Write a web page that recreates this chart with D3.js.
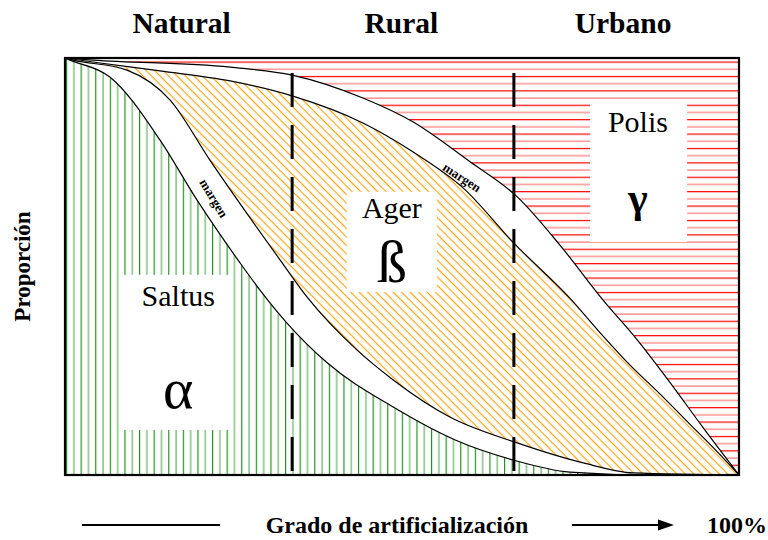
<!DOCTYPE html>
<html>
<head>
<meta charset="utf-8">
<script src="https://cdn.jsdelivr.net/npm/d3@7"></script>
<style>
  html, body { margin: 0; padding: 0; background: #fff; }
  text { font-family: "Liberation Serif", "Times New Roman", serif; }
</style>
</head>
<body>
<svg id="chart" width="768" height="540"></svg>
<script>
// ---- data (x = grado de artificialización %, y = proporción acumulada) ----
const zoneLabels = ["Natural", "Rural", "Urbano"];
const zoneCenters = [17.3, 49.9, 82.8];
const dividers = [33.7, 66.6];

// upper boundary of Saltus (α)
const curveSaltus = [[0,1],[0.74,0.995],[6.7,0.954],[14.1,0.803],[19.6,0.659],[26.0,0.508],[28.9,0.444],[32.9,0.365],[38.9,0.269],[48.7,0.163],[57.9,0.084],[66.5,0.036],[74.9,0.007],[86.8,0],[100,0]];
// lower boundary of Ager (β) – top of lower "margen"
const curveMargenInf = [[0,1],[1.2,0.995],[9.2,0.971],[15.6,0.899],[21.5,0.755],[31.9,0.516],[35.9,0.427],[43.3,0.300],[48.7,0.228],[57.1,0.139],[67.1,0.077],[76.9,0.029],[84.3,0.005],[100,0]];
// upper boundary of Ager (β)
const curveAger = [[0,1],[5.2,0.988],[14.1,0.969],[24.5,0.945],[33.7,0.909],[44.2,0.844],[51.6,0.775],[59.1,0.688],[66.6,0.556],[74.9,0.424],[79.4,0.341],[83.8,0.264],[88.3,0.194],[92.7,0.122],[96.4,0.062],[100,0]];
// lower boundary of Polis (γ) – top of upper "margen"
const curveMargenSup = [[0,1],[4.2,0.995],[24.5,0.978],[33.7,0.959],[44.2,0.904],[51.6,0.847],[60.1,0.751],[67.1,0.667],[73.4,0.552],[79.8,0.420],[84.9,0.324],[89.8,0.221],[94.7,0.113],[100,0]];

const regionNames = ["Saltus", "Ager", "Polis"];
const regionSymbols = ["α", "ß", "γ"];
const axisTitleY = "Proporción";
const axisTitleX = "Grado de artificialización";
const axisEnd = "100%";

// ---- layout ----
const svg = d3.select("#chart");
const x = d3.scaleLinear().domain([0, 100]).range([65, 739]);
const y = d3.scaleLinear().domain([0, 1]).range([475, 58]);

const defs = svg.append("defs");
// red horizontal hatch (alternating red / light red)
const pr = defs.append("pattern").attr("id", "hRed").attr("patternUnits", "userSpaceOnUse")
  .attr("x", 0).attr("y", 61.5).attr("width", 12).attr("height", 14.4);
pr.append("line").attr("x1", 0).attr("x2", 12).attr("y1", 0.6).attr("y2", 0.6).attr("stroke", "#ff0000").attr("stroke-width", 1.2);
pr.append("line").attr("x1", 0).attr("x2", 12).attr("y1", 7.8).attr("y2", 7.8).attr("stroke", "#ff8a8a").attr("stroke-width", 1.4);
// orange diagonal hatch
const po = defs.append("pattern").attr("id", "hOrange").attr("patternUnits", "userSpaceOnUse")
  .attr("width", 12).attr("height", 6).attr("patternTransform", "rotate(45)");
po.append("line").attr("x1", 0).attr("x2", 12).attr("y1", 0.6).attr("y2", 0.6).attr("stroke", "#ffa000").attr("stroke-width", 1.1);
// green vertical hatch (alternating dark / light green)
const pg = defs.append("pattern").attr("id", "hGreen").attr("patternUnits", "userSpaceOnUse")
  .attr("x", 66).attr("width", 14.6).attr("height", 12);
pg.append("line").attr("y1", 0).attr("y2", 12).attr("x1", 0.6).attr("x2", 0.6).attr("stroke", "#108a10").attr("stroke-width", 1.1);
pg.append("line").attr("y1", 0).attr("y2", 12).attr("x1", 7.9).attr("x2", 7.9).attr("stroke", "#82c482").attr("stroke-width", 1.5);

const areaUnder = d3.area().x(d => x(d[0])).y0(y(0)).y1(d => y(d[1])).curve(d3.curveMonotoneX);
const line = d3.line().x(d => x(d[0])).y(d => y(d[1])).curve(d3.curveMonotoneX);

const plot = svg.append("g");
// Polis (whole frame red), then white margin, Ager, white margin, Saltus
plot.append("rect").attr("x", x(0)).attr("y", y(1)).attr("width", x(100) - x(0)).attr("height", y(0) - y(1)).attr("fill", "url(#hRed)");
plot.append("path").attr("d", areaUnder(curveMargenSup)).attr("fill", "#fff");
plot.append("path").attr("d", areaUnder(curveAger)).attr("fill", "url(#hOrange)");
plot.append("path").attr("d", areaUnder(curveMargenInf)).attr("fill", "#fff");
plot.append("path").attr("d", areaUnder(curveSaltus)).attr("fill", "url(#hGreen)");

// white label boxes
const boxes = [
  {x0: 8.6, x1: 24.8, y0: 0.108, y1: 0.480},
  {x0: 41.8, x1: 55.2, y0: 0.439, y1: 0.679},
  {x0: 77.9, x1: 92.3, y0: 0.559, y1: 0.892}
];
plot.selectAll("rect.box").data(boxes).enter().append("rect").attr("class", "box")
  .attr("x", d => x(d.x0)).attr("width", d => x(d.x1) - x(d.x0))
  .attr("y", d => y(d.y1)).attr("height", d => y(d.y0) - y(d.y1)).attr("fill", "#fff");

// boundary curves
[curveSaltus, curveMargenInf, curveAger, curveMargenSup].forEach(c => {
  plot.append("path").attr("d", line(c)).attr("fill", "none").attr("stroke", "#000").attr("stroke-width", 1.2);
});

// dashed dividers
plot.selectAll("line.div").data(dividers).enter().append("line").attr("class", "div")
  .attr("x1", d => x(d)).attr("x2", d => x(d)).attr("y1", y(0.964)).attr("y2", y(0))
  .attr("stroke", "#000").attr("stroke-width", 3).attr("stroke-dasharray", "34 18");

// frame
svg.append("rect").attr("x", x(0)).attr("y", y(1)).attr("width", x(100) - x(0)).attr("height", y(0) - y(1))
  .attr("fill", "none").attr("stroke", "#000").attr("stroke-width", 2.2);

// region labels
const nameSpecs = [
  {cx: 16.8, ny: 0.406, sy: 0.161, size: 58, w: "normal"},
  {cx: 48.5, ny: 0.616, sy: 0.463, size: 60, w: "normal"},
  {cx: 85.0, ny: 0.823, sy: 0.631, size: 42, w: "bold"}
];
nameSpecs.forEach((s, i) => {
  svg.append("text").attr("x", x(s.cx)).attr("y", y(s.ny)).attr("text-anchor", "middle")
    .attr("font-size", 30).text(regionNames[i]);
  svg.append("text").attr("x", x(s.cx)).attr("y", y(s.sy)).attr("text-anchor", "middle")
    .attr("font-size", s.size).attr("font-weight", s.w).text(regionSymbols[i]);
});

// margen labels
const margenSpecs = [{px: 22.1, py: 0.664, a: 59}, {px: 58.9, py: 0.714, a: 33}];
margenSpecs.forEach(m => {
  svg.append("text").attr("transform", `translate(${x(m.px)},${y(m.py)}) rotate(${m.a})`)
    .attr("text-anchor", "middle").attr("dy", "0.35em").attr("font-size", 13).attr("font-weight", "bold").text("margen");
});

// zone headings
svg.selectAll("text.zone").data(zoneLabels).enter().append("text").attr("class", "zone")
  .attr("x", (d, i) => x(zoneCenters[i])).attr("y", 33).attr("text-anchor", "middle")
  .attr("font-size", 29.5).attr("font-weight", "bold").text(d => d);

// y axis title
svg.append("text").attr("transform", `translate(30,${(y(0) + y(1)) / 2}) rotate(-90)`)
  .attr("text-anchor", "middle").attr("font-size", 23).attr("font-weight", "bold").text(axisTitleY);

// x axis title with arrow
svg.append("line").attr("x1", 82).attr("x2", 220).attr("y1", 525).attr("y2", 525).attr("stroke", "#000").attr("stroke-width", 2);
svg.append("line").attr("x1", 572).attr("x2", 660).attr("y1", 525).attr("y2", 525).attr("stroke", "#000").attr("stroke-width", 2);
svg.append("path").attr("d", "M658,519.5 L674,525 L658,530.5 Z").attr("fill", "#000");
svg.append("text").attr("x", 397).attr("y", 533).attr("text-anchor", "middle")
  .attr("font-size", 24).attr("font-weight", "bold").text(axisTitleX);
svg.append("text").attr("x", 707).attr("y", 533).attr("text-anchor", "start")
  .attr("font-size", 24).attr("font-weight", "bold").text(axisEnd);
</script>
</body>
</html>
